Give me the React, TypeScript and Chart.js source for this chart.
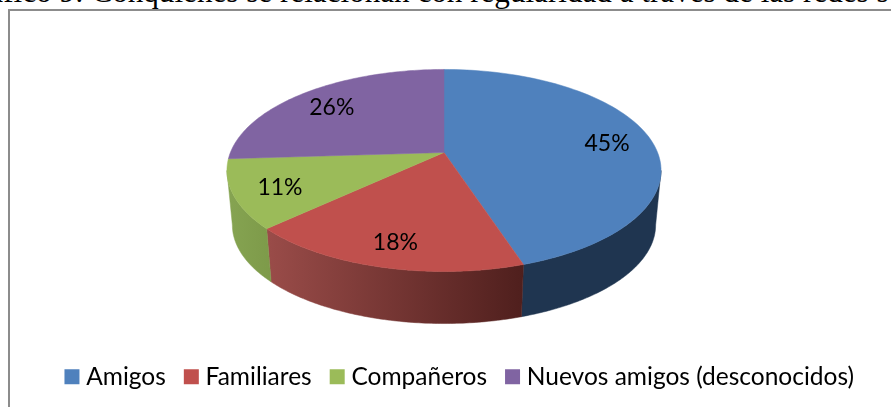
import React, { useEffect, useRef } from "react";
import { Chart, registerables } from "chart.js";

Chart.register(...registerables);

const categories = ["Amigos", "Familiares", "Compañeros", "Nuevos amigos (desconocidos)"];
const shares = [45, 18, 11, 26];
const topColors = ["#4f81bd", "#c0504d", "#9bbb59", "#8064a2"];
const sideStart = ["#1f3550", "#9a4c49", "#86a452", "#4d3c62"];
const sideEnd = ["#1f3550", "#4f1f1d", "#7d9a49", "#4d3c62"];
const titleText = "Gráfico 9: Conquiénes se relacionan con regularidad a través de las redes sociales";

const TILT = 0.458;
const PERSPECTIVE = 0.178;
const BASE_SCALE = 0.975;
const BASE_DROP = 55;
const LABEL_RADIUS = 0.79;
const SHIFT_X = -18;
const SHIFT_Y = -18;
const FONT = "Lato, Carlito, sans-serif";

const piePlugin = {
  id: "projectedPie",
  beforeDatasetsDraw(chart: any) {
    const ctx = chart.ctx;
    const arcs = chart.getDatasetMeta(0).data;
    const project = (arc: any, a: number, r: number, s = 1, drop = 0) => {
      const R = arc.outerRadius;
      const w = 1 - PERSPECTIVE * r * Math.sin(a);
      return {
        x: arc.x + SHIFT_X + (s * R * r * Math.cos(a)) / w,
        y: arc.y + SHIFT_Y + drop + (s * R * TILT * r * Math.sin(a)) / w,
      };
    };
    const edgeFrom = Math.asin(PERSPECTIVE);
    const edgeTo = Math.PI - edgeFrom;
    const STEPS = 90;

    arcs.forEach((arc: any, i: number) => {
      const a0 = Math.max(arc.startAngle, edgeFrom);
      const a1 = Math.min(arc.endAngle, edgeTo);
      if (a1 <= a0) return;
      const top: any[] = [];
      const base: any[] = [];
      for (let j = 0; j <= STEPS; j++) {
        const a = a0 + ((a1 - a0) * j) / STEPS;
        top.push(project(arc, a, 1));
        base.push(project(arc, a, 1, BASE_SCALE, BASE_DROP));
      }
      const xs = top.concat(base).map((p) => p.x);
      const g = ctx.createLinearGradient(Math.min(...xs), 0, Math.max(...xs), 0);
      g.addColorStop(0, sideStart[i]);
      g.addColorStop(1, sideEnd[i]);
      ctx.beginPath();
      top.forEach((p, j) => (j ? ctx.lineTo(p.x, p.y) : ctx.moveTo(p.x, p.y)));
      base.reverse().forEach((p) => ctx.lineTo(p.x, p.y));
      ctx.closePath();
      ctx.fillStyle = g;
      ctx.strokeStyle = g;
      ctx.lineWidth = 0.5;
      ctx.fill();
      ctx.stroke();
    });

    arcs.forEach((arc: any, i: number) => {
      const c = project(arc, 0, 0);
      ctx.beginPath();
      ctx.moveTo(c.x, c.y);
      for (let j = 0; j <= STEPS; j++) {
        const p = project(arc, arc.startAngle + ((arc.endAngle - arc.startAngle) * j) / STEPS, 1);
        ctx.lineTo(p.x, p.y);
      }
      ctx.closePath();
      ctx.fillStyle = topColors[i];
      ctx.strokeStyle = topColors[i];
      ctx.lineWidth = 0.5;
      ctx.fill();
      ctx.stroke();
    });

    ctx.fillStyle = "#000";
    ctx.font = `23px ${FONT}`;
    ctx.textAlign = "center";
    ctx.textBaseline = "middle";
    arcs.forEach((arc: any, i: number) => {
      const p = project(arc, (arc.startAngle + arc.endAngle) / 2, LABEL_RADIUS);
      ctx.fillText(`${shares[i]}%`, p.x, p.y + 3);
    });
    return false;
  },
};

export default function App() {
  const ref = useRef<HTMLCanvasElement>(null);
  useEffect(() => {
    const chart = new Chart(ref.current!, {
      type: "pie",
      data: {
        labels: categories,
        datasets: [{ data: shares, backgroundColor: topColors, borderWidth: 0 }],
      },
      options: {
        animation: false,
        responsive: false,
        radius: 213.6,
        layout: { padding: { top: 0, right: 0, left: 33, bottom: 21 } },
        plugins: {
          tooltip: { enabled: false },
          title: { display: false },
          legend: {
            display: true,
            position: "bottom",
            labels: {
              usePointStyle: true,
              pointStyle: "rect",
              boxWidth: 4,
              boxHeight: 15,
              padding: 23.5,
              color: "#000",
              font: { family: FONT, size: 24.5 },
            },
          },
        },
      } as any,
      plugins: [piePlugin],
    });
    return () => chart.destroy();
  }, []);
  return (
    <div style={{ position: "fixed", left: 0, top: 0, width: 891, height: 407, overflow: "hidden", background: "#fff" }}>
      <div
        style={{
          position: "absolute",
          left: -43.5,
          top: -25,
          whiteSpace: "nowrap",
          fontFamily: "'Liberation Serif', serif",
          fontSize: 31.15,
          lineHeight: "34px",
          color: "#000",
        }}
      >
        {titleText}
      </div>
      <div
        style={{
          position: "absolute",
          left: 8,
          top: 9,
          width: 900,
          height: 420,
          border: "2px solid #8c8c8c",
          boxSizing: "border-box",
        }}
      />
      <canvas ref={ref} width={891} height={420} style={{ position: "absolute", left: 0, top: 0 }} />
    </div>
  );
}
